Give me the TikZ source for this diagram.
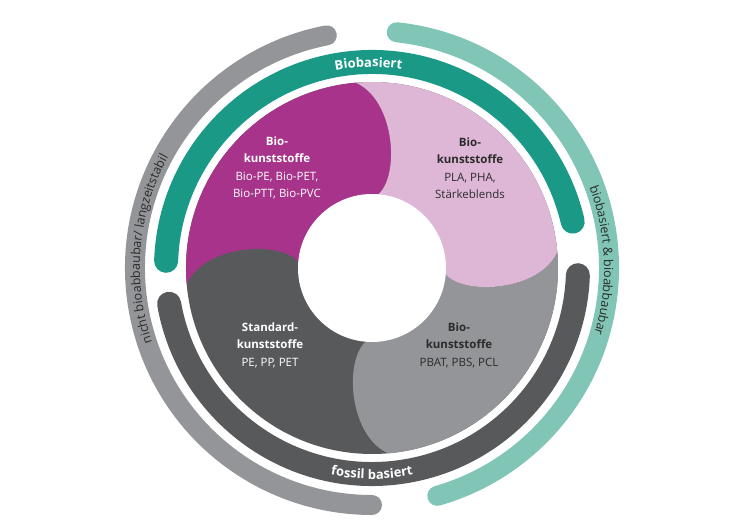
\documentclass[tikz,border=0pt]{standalone}
\usepackage{fontspec}
\setmainfont{Open Sans}
\usetikzlibrary{decorations.text}
\definecolor{mag}{HTML}{A7338A}
\definecolor{pinkc}{HTML}{DEB7D6}
\definecolor{lgray}{HTML}{939598}
\definecolor{dgray}{HTML}{58595B}
\definecolor{teal1}{HTML}{1A9987}
\definecolor{teal2}{HTML}{80C5B5}
\definecolor{txtd}{HTML}{2B2B2B}
\newcommand\pieceq[2]{\begin{scope}[rotate=#1]\fill[#2] (95:186pt) .. controls (23,168) and (28,93) .. (85:74pt) -- (0,0) -- (175:74pt) .. controls (-93,28) and (-168,23) .. (185:186pt) arc[start angle=185,end angle=95,radius=186pt] -- cycle;\end{scope}}
\tikzset{
  band/.style={line width=24pt,line cap=round},
  oband/.style={line width=20pt,line cap=round},
  lbl/.style={align=center,font=\fontsize{11.5}{17.5}\selectfont},
}
\begin{document}
\begin{tikzpicture}[x=1pt,y=1pt]
\useasboundingbox (-372,-262) rectangle (378,268);
\fill[dgray] (0,0) circle[radius=186pt];
\pieceq{0}{mag}
\pieceq{180}{lgray}
\pieceq{-90}{pinkc}
\fill[white] (0,0) circle[radius=74pt];
% bands
\draw[band,teal1] (13:206pt) arc[start angle=13,end angle=178,radius=206pt];
\draw[band,dgray] (190:206pt) arc[start angle=190,end angle=358,radius=206pt];
\draw[oband,lgray] (101:237pt) arc[start angle=101,end angle=270,radius=237pt];
\draw[oband,teal2] (84:237pt) arc[start angle=84,end angle=-74,radius=237pt];
% curved texts
\path[decorate,decoration={text along path,text color=white,text align=center,
  text={|\fontsize{13}{14}\selectfont\bfseries|Biobasiert}}]
  (140:201pt) arc[start angle=140,end angle=42,radius=201pt];
\path[decorate,decoration={text along path,text color=white,text align=center,
  text={|\fontsize{13}{14}\selectfont\bfseries|fossil basiert}}]
  (220:211pt) arc[start angle=220,end angle=320,radius=211pt];
\path[decorate,decoration={text along path,text color=txtd,text align=center,
  text={|\fontsize{12.5}{13}\selectfont|nicht bioabbaubar/ langzeitstabil}}]
  (250:232pt) arc[start angle=250,end angle=100,radius=232pt];
\path[decorate,decoration={text along path,text color=txtd,text align=center,
  text={|\fontsize{12.5}{13}\selectfont|biobasiert {\&} bioabbaubar}}]
  (60:232pt) arc[start angle=60,end angle=-56,radius=232pt];
% labels
\node[lbl,text=white] (a) at (-95,100) {\textbf{Bio-}\\\textbf{kunststoffe}\\Bio-PE, Bio-PET,\\Bio-PTT, Bio-PVC};
\node[lbl,text=txtd] (b) at (98,100) {\textbf{Bio-}\\\textbf{kunststoffe}\\PLA, PHA,\\Stärkeblends};
\node[lbl,text=white] (c) at (-102,-77) {\textbf{Standard-}\\\textbf{kunststoffe}\\PE, PP, PET};
\node[lbl,text=txtd] (d) at (87,-77) {\textbf{Bio-}\\\textbf{kunststoffe}\\PBAT, PBS, PCL};
\end{tikzpicture}
\end{document}
